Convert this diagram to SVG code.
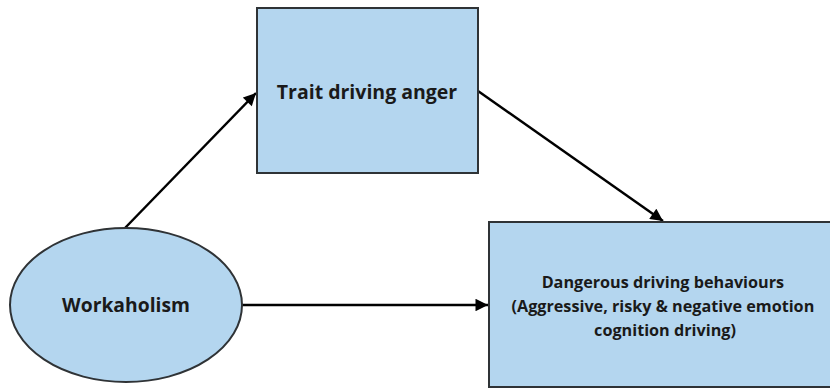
<svg xmlns="http://www.w3.org/2000/svg" width="830" height="389" viewBox="0 0 830 389">
<defs>
<style>
.node{fill:#b4d6ef;stroke:#2f3336;stroke-width:2}
.lbl{font-family:"Open Sans","Liberation Sans",sans-serif;font-weight:bold;fill:#1a1a1a;text-anchor:middle}
.conn{stroke:#000;stroke-width:2.5;fill:none;marker-end:url(#ah)}
</style>
<marker id="ah" viewBox="0 0 10 10" refX="10" refY="5" markerWidth="5.5" markerHeight="5" markerUnits="strokeWidth" orient="auto">
<path d="M0,0 L10,5 L0,10 z" fill="#000"/>
</marker>
</defs>
<rect width="830" height="389" fill="#fff"/>
<g id="connectors">
<line class="conn" x1="125" y1="228" x2="256" y2="93"/>
<line class="conn" x1="478" y1="91" x2="663" y2="221"/>
<line class="conn" x1="242" y1="305" x2="488" y2="305"/>
</g>
<g id="trait">
<rect class="node" x="257" y="8" width="221" height="165"/>
<text class="lbl" x="367" y="99" font-size="19.5">Trait driving anger</text>
</g>
<g id="workaholism">
<ellipse class="node" cx="126" cy="305" rx="116" ry="77"/>
<text class="lbl" x="126" y="312" font-size="19.3">Workaholism</text>
</g>
<g id="dangerous">
<rect class="node" x="489" y="222" width="345" height="165"/>
<text class="lbl" font-size="16.2">
<tspan x="665" y="288">Dangerous driving behaviours</tspan>
<tspan x="665" y="312">(Aggressive, risky &amp; negative emotion</tspan>
<tspan x="665" y="336">cognition driving)</tspan>
</text>
</g>
</svg>
